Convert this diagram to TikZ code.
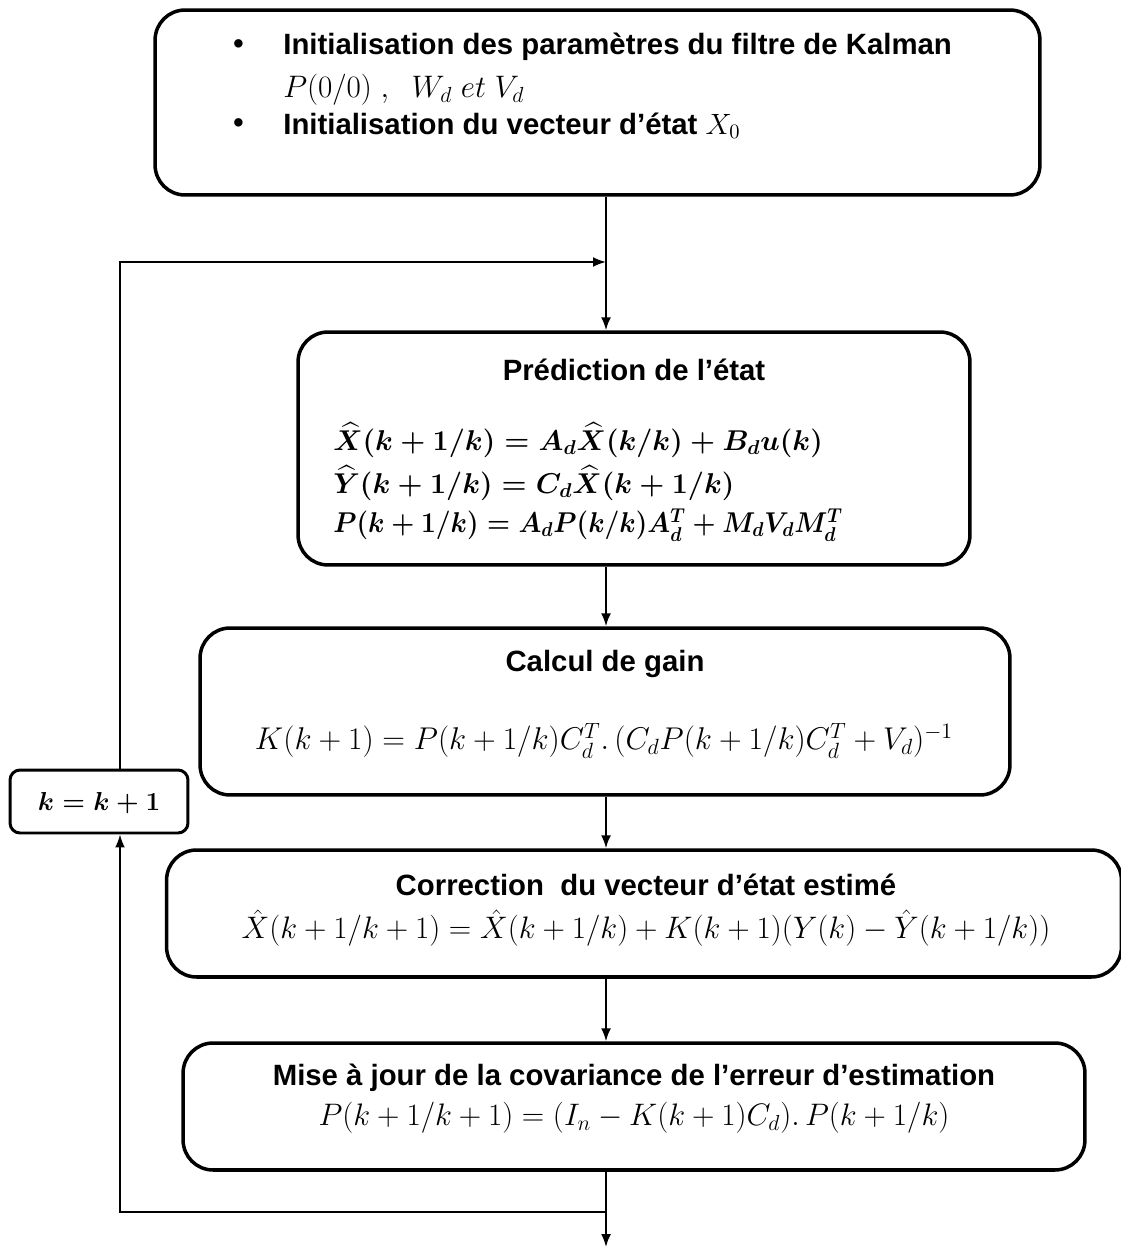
\RequirePackage{fix-cm}
\documentclass[tikz,border=0pt]{standalone}
\usepackage{amsmath}
\usepackage{graphicx}
\usepackage{fontspec}
\setmainfont{Liberation Sans}
\usetikzlibrary{arrows.meta}

\tikzset{
  stage/.style={draw, line width=2pt, rounded corners=0.6cm, inner sep=0pt},
  smallstage/.style={draw, line width=1.7pt, rounded corners=0.2cm, inner sep=0pt},
  flow/.style={line width=1.1pt, -{Latex[length=0.26cm,width=0.2cm]}},
  link/.style={line width=1.1pt},
  title/.style={font=\bfseries\fontsize{16.7}{20}\selectfont, inner sep=0pt},
  eq/.style={font=\fontsize{17.7}{21}\selectfont, inner sep=0pt},
  eqgain/.style={font=\fontsize{17.9}{21}\selectfont, inner sep=0pt},
  eqbold/.style={font=\fontsize{16.3}{19}\selectfont\boldmath, inner sep=0pt},
  eqcount/.style={font=\fontsize{14.8}{18}\selectfont\boldmath, inner sep=0pt},
}

\begin{document}
\begin{tikzpicture}[x=0.02cm, y=-0.02cm]
  \useasboundingbox (0,0) rectangle (1121,1247);

  % stage boxes
  \node[stage, minimum width=17.7cm, minimum height=3.7cm] (init) at (597.5,102.5) {};
  \node[stage, minimum width=13.44cm, minimum height=4.66cm] (pred) at (634,448.5) {};
  \node[stage, minimum width=16.2cm, minimum height=3.34cm] (gain) at (605,711.5) {};
  \node[stage, minimum width=19.1cm, minimum height=2.54cm] (corr) at (644,913.5) {};
  \node[stage, minimum width=18.04cm, minimum height=2.54cm] (upd) at (634,1106.5) {};
  \node[smallstage, minimum width=3.56cm, minimum height=1.26cm] (kinc) at (99,801.5) {};

  % initialisation text
  \node[title, anchor=west] (b1) at (233,47) {•};
  \node[title, anchor=west] (t1) at (283,47) {Initialisation des paramètres du filtre de Kalman};
  \node[eq, anchor=west] (t2) at (283,90) {$P(0/0)\ ,\ \ W_d\;et\;V_d$};
  \node[title, anchor=west] (b2) at (233,126) {•};
  \node[title, anchor=west] (t3) at (283,126) {Initialisation du vecteur d’état $X_0$};

  % prediction text
  \node[title] (predt) at (634,370) {Prédiction de l’état};
  \node[eqbold, anchor=west] (p1) at (333,440) {$\widehat{X}(k+1/k)=A_d\widehat{X}(k/k)+B_du(k)$};
  \node[eqbold, anchor=west] (p2) at (333,483) {$\widehat{Y}(k+1/k)=C_d\widehat{X}(k+1/k)$};
  \node[eqbold, anchor=west] (p3) at (333,525) {\scalebox{0.92}[1]{$P(k+1/k)=A_dP(k/k)A_d^T+M_dV_dM_d^T$}};

  % gain text
  \node[title] (gaint) at (605,664) {Calcul de gain};
  \node[eqgain] (g1) at (604,741) {$K(k+1)=P(k+1/k)C_d^T.\,(C_dP(k+1/k)C_d^T+V_d)^{-1}$};

  % correction text
  \node[title] (corrt) at (646,885) {Correction\ \ du vecteur d’état estimé};
  \node[eq] (c1) at (646,928) {$\hat{X}(k+1/k+1)=\hat{X}(k+1/k)+K(k+1)(Y(k)-\hat{Y}(k+1/k))$};

  % covariance update text
  \node[title] (updt) at (634,1078) {Mise à jour de la covariance de l’erreur d’estimation};
  \node[eq] (u1) at (634,1118) {$P(k+1/k+1)=(I_n-K(k+1)C_d).\,P(k+1/k)$};

  % counter text
  \node[eqcount] (kt) at (99,803) {$k=k+1$};

  % junction points
  \coordinate (merge) at (606,262);
  \coordinate (split) at (606,1212);
  \coordinate (out) at (606,1247);
  \coordinate (back) at (120,1212);

  % main flow
  \draw[link] (init.south -| merge) -- (merge);
  \draw[flow] (merge) -- (pred.north -| merge);
  \draw[flow] (pred.south -| merge) -- (gain.north -| merge);
  \draw[flow] (gain.south -| merge) -- (corr.north -| merge);
  \draw[flow] (corr.south -| merge) -- (upd.north -| merge);
  \draw[flow] (upd.south -| merge) -- (out);

  % feedback loop
  \draw[flow] (split) -- (back) -- (kinc.south -| back);
  \draw[flow] (kinc.north -| back) |- (merge);
\end{tikzpicture}
\end{document}
